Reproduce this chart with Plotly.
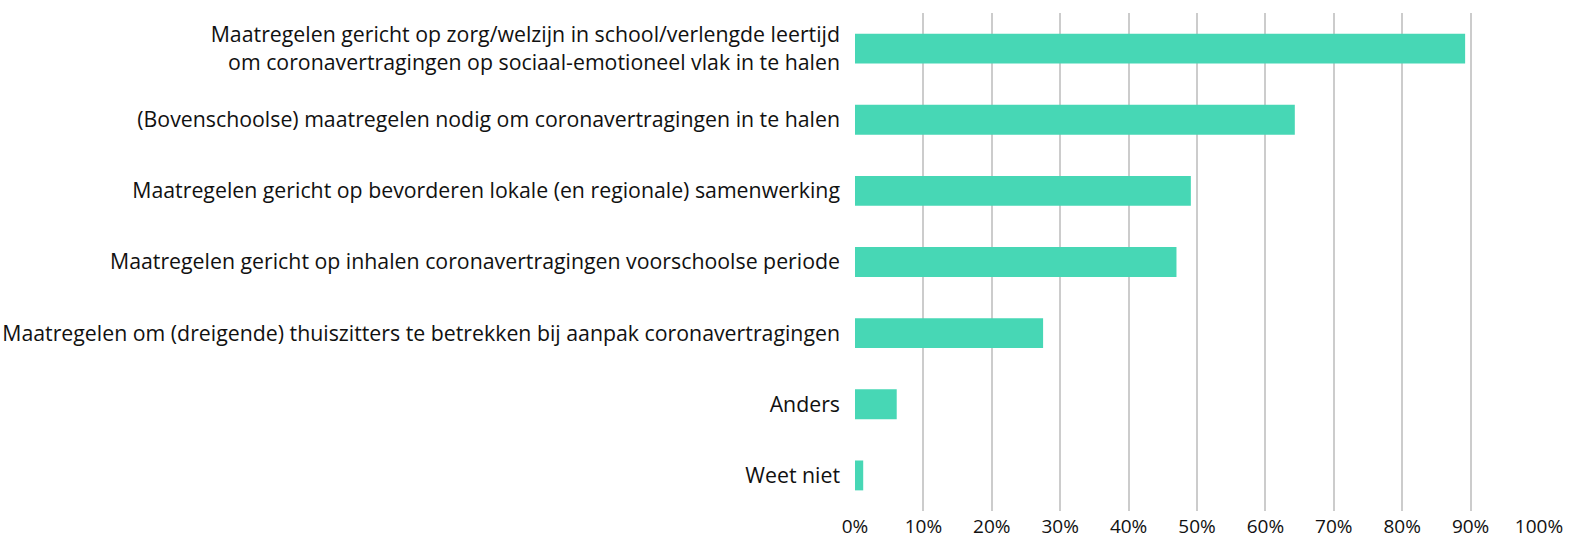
import plotly.graph_objects as go

categories = [
    "Maatregelen gericht op zorg/welzijn in school/verlengde leertijd<br>om coronavertragingen op sociaal-emotioneel vlak in te halen",
    "(Bovenschoolse) maatregelen nodig om coronavertragingen in te halen",
    "Maatregelen gericht op bevorderen lokale (en regionale) samenwerking",
    "Maatregelen gericht op inhalen coronavertragingen voorschoolse periode",
    "Maatregelen om (dreigende) thuiszitters te betrekken bij aanpak coronavertragingen",
    "Anders",
    "Weet niet",
]
values = [0.892, 0.643, 0.491, 0.470, 0.275, 0.061, 0.012]
tick_vals = [0, 0.1, 0.2, 0.3, 0.4, 0.5, 0.6, 0.7, 0.8, 0.9, 1.0]
tick_text = ["0%", "10%", "20%", "30%", "40%", "50%", "60%", "70%", "80%", "90%", "100%"]

fig = go.Figure(go.Bar(
    x=values, y=categories, orientation="h",
    marker=dict(color="#47D7B5", line=dict(width=0)),
    hoverinfo="x+y",
))

fig.update_layout(
    width=1570, height=539,
    margin=dict(l=855, r=31, t=13, b=28),
    paper_bgcolor="white", plot_bgcolor="white",
    bargap=0.58,
    showlegend=False,
    font=dict(family="Open Sans", size=21, color="#111111"),
)
fig.update_xaxes(
    range=[0, 1.0], tickvals=tick_vals, ticktext=tick_text,
    showgrid=True, gridcolor="#cccccc", gridwidth=2,
    zeroline=False, showline=False, ticks="",
    ticklabelstandoff=2, automargin=False,
    tickfont=dict(size=19, color="#111111"),
)
fig.update_yaxes(
    autorange="reversed", showgrid=False, zeroline=False,
    showline=False, ticks="", ticklabelstandoff=14, automargin=False,
    tickfont=dict(size=21.3, color="#111111"),
)

fig.write_html("out.html")
